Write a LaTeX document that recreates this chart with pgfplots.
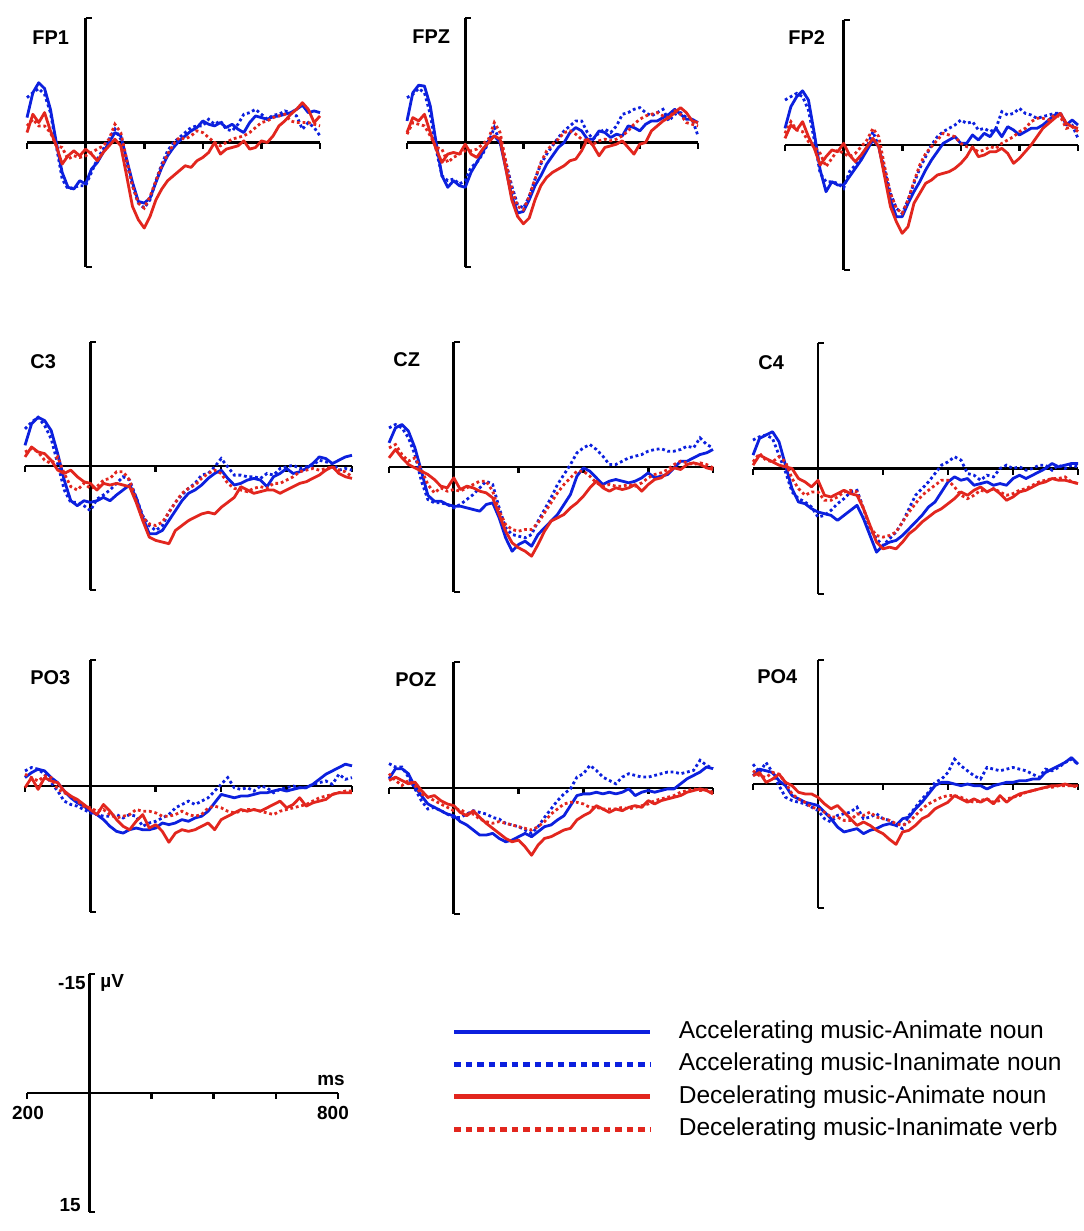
\documentclass[border=0pt]{standalone}
\usepackage{fontspec}
\setmainfont{Liberation Sans}
\usepackage{pgfplots}
\usepackage{pgfplotstable}
\pgfplotsset{compat=1.18}
\definecolor{bE}{RGB}{12,32,222}
\definecolor{rE}{RGB}{226,38,30}

\pgfplotstableread{
t a b c d
-200 -3.0 -5.4 -1.2 -2.0
-180 -6.0 -6.0 -3.4 -2.8
-160 -7.2 -6.5 -2.4 -2.0
-140 -6.5 -5.8 -3.6 -2.0
-120 -4.0 -3.6 -1.4 -1.2
-100 0.0 0.4 0.4 0.4
-80 3.6 4.4 2.6 0.6
-60 5.4 5.6 1.6 2.0
-40 5.6 5.4 1.0 1.6
-20 4.6 5.2 1.6 1.8
0 5.0 5.2 0.8 1.6
20 3.2 3.6 1.4 1.2
40 2.4 2.0 2.2 0.8
60 1.2 0.8 1.2 0.4
80 0.0 -0.4 0.4 -0.4
100 -1.2 -1.6 -0.4 -2.2
120 -0.8 -0.4 0.4 -1.2
140 2.0 2.4 4.0 2.0
160 4.8 5.2 7.7 5.2
180 7.1 7.3 9.3 7.3
200 7.3 7.9 10.3 7.9
220 6.7 6.9 8.9 6.5
240 4.8 4.6 6.9 4.6
260 3.0 2.6 5.6 2.8
280 1.6 1.0 4.6 1.4
300 0.6 0.0 4.0 0.2
320 -0.2 -0.6 3.4 -0.6
340 -0.8 -1.2 2.8 -0.4
360 -1.4 -1.8 3.0 -0.8
380 -1.8 -2.0 2.2 -1.4
400 -2.6 -2.0 1.8 -1.2
420 -2.2 -2.8 1.2 -0.6
440 -2.0 -2.2 0.0 0.0
460 -2.4 -2.6 1.4 0.4
480 -1.8 -1.6 0.8 0.0
500 -2.2 -1.4 0.6 -0.4
520 -1.6 -2.2 0.4 -0.6
540 -1.2 -3.4 -0.2 -0.8
560 -2.4 -3.6 0.8 -1.2
580 -3.2 -4.0 0.6 -1.8
600 -3.0 -3.4 -0.2 -2.4
620 -2.8 -2.8 0.0 -2.6
640 -3.1 -3.3 -0.8 -3.0
660 -3.2 -3.4 -2.0 -3.2
680 -3.4 -3.8 -2.6 -3.4
700 -3.6 -3.6 -3.4 -2.6
720 -4.0 -3.2 -4.0 -2.4
740 -4.5 -1.6 -4.8 -2.4
760 -3.6 -2.4 -4.0 -2.4
780 -3.8 -1.8 -2.4 -2.2
800 -3.6 -0.8 -3.2 -2.0
}\tFPone

\pgfplotstableread{
t a b c d
-200 -2.6 -5.4 -1.2 -1.0
-180 -6.0 -5.8 -3.0 -2.4
-160 -6.9 -6.5 -2.6 -2.2
-140 -6.8 -6.0 -3.4 -2.0
-120 -4.4 -3.4 -1.2 -0.8
-100 0.0 0.8 0.8 0.6
-80 4.0 4.0 2.4 0.8
-60 5.4 4.6 1.4 2.4
-40 4.6 4.4 1.2 1.8
-20 5.2 5.0 1.4 1.4
0 5.4 4.6 0.2 1.0
20 3.6 3.0 1.4 1.0
40 2.4 2.4 1.8 0.8
60 1.2 1.4 0.8 0.2
80 -0.2 0.0 0.0 -0.4
100 -0.8 -1.8 -0.8 -2.4
120 0.0 0.0 -0.4 -1.2
140 3.2 2.4 3.2 2.4
160 6.5 5.2 6.9 5.6
180 8.5 7.5 8.9 7.7
200 8.3 7.9 9.8 8.1
220 6.9 6.5 9.1 6.5
240 5.2 4.4 6.9 4.4
260 4.0 2.6 5.2 2.4
280 2.6 1.4 4.2 1.0
300 1.6 0.4 3.6 0.2
320 0.6 -0.6 3.2 -0.4
340 0.0 -1.4 2.8 -1.2
360 -1.2 -2.0 2.2 -1.4
380 -1.8 -2.6 2.0 -1.0
400 -1.4 -2.6 1.0 -0.4
420 -0.4 -1.2 -0.4 -0.2
440 -0.4 -0.4 0.4 0.2
460 -1.4 -1.2 1.6 -0.2
480 -1.2 -1.6 0.6 -0.4
500 -0.6 -1.2 0.4 -0.2
520 -1.0 -2.0 0.2 -0.4
540 -0.8 -3.4 -0.2 -0.8
560 -2.0 -3.6 0.6 -1.4
580 -1.8 -4.0 1.4 -2.2
600 -1.4 -4.2 0.2 -2.8
620 -2.2 -3.6 0.0 -3.2
640 -2.6 -3.2 -1.4 -3.4
660 -2.6 -3.6 -2.0 -3.6
680 -3.0 -4.0 -2.6 -3.2
700 -3.4 -2.6 -3.0 -3.0
720 -4.0 -3.4 -3.6 -3.8
740 -3.4 -3.6 -4.2 -3.4
760 -2.8 -3.0 -3.6 -2.4
780 -2.8 -2.8 -2.6 -2.2
800 -2.4 -0.8 -2.4 -2.0
}\tFPZ

\pgfplotstableread{
t a b c d
-200 -2.0 -5.4 -0.8 -1.4
-180 -4.6 -5.8 -2.4 -2.8
-160 -5.8 -6.2 -1.8 -1.8
-140 -6.5 -5.8 -2.8 -1.6
-120 -5.4 -4.2 -1.0 -0.4
-100 -1.4 -0.6 0.4 0.2
-80 3.0 3.4 2.4 1.0
-60 5.6 4.4 1.4 2.6
-40 4.4 4.4 0.6 1.6
-20 4.8 4.6 0.8 0.6
0 4.8 5.2 -0.2 1.0
20 3.8 3.2 1.2 1.4
40 2.8 2.4 2.0 1.0
60 1.8 1.4 1.2 0.2
80 0.6 0.2 0.2 -0.6
100 -0.6 -1.6 -0.8 -2.0
120 0.2 0.2 0.2 -1.0
140 3.4 3.0 3.8 2.6
160 6.6 5.8 7.4 5.8
180 8.6 7.6 9.2 7.6
200 8.6 8.2 10.6 8.2
220 7.0 6.6 9.8 6.6
240 5.6 4.6 7.0 4.4
260 4.4 2.8 5.8 2.4
280 3.0 1.4 4.6 1.0
300 1.8 0.0 4.2 0.2
320 0.8 -1.0 3.6 -0.6
340 -0.2 -1.6 3.4 -1.4
360 -0.6 -2.0 3.2 -1.2
380 -1.0 -2.4 2.8 -1.0
400 -0.2 -3.0 2.2 -0.2
420 -0.2 -2.6 1.4 0.2
440 -1.2 -2.8 0.2 0.4
460 -0.6 -1.8 1.4 0.8
480 -1.4 -2.0 1.2 0.6
500 -1.0 -1.6 0.8 0.2
520 -2.0 -2.0 0.8 0.4
540 -1.0 -4.0 0.4 -0.2
560 -2.2 -3.6 1.0 -0.6
580 -1.8 -3.8 2.2 -1.0
600 -1.2 -4.4 1.6 -1.6
620 -1.6 -3.8 0.8 -2.0
640 -2.0 -3.6 0.0 -2.8
660 -2.0 -3.2 -1.0 -3.2
680 -2.4 -3.4 -2.0 -3.2
700 -3.0 -3.6 -2.6 -3.0
720 -3.6 -3.8 -3.2 -3.6
740 -3.8 -3.8 -3.8 -3.4
760 -2.4 -2.6 -2.6 -2.0
780 -3.0 -2.4 -2.2 -2.2
800 -2.4 -0.8 -2.0 -1.6
}\tFPtwo

\pgfplotstableread{
t a b c d
-200 -2.5 -4.5 -1.1 -1.7
-180 -5.1 -5.3 -2.3 -2.1
-160 -5.9 -5.9 -1.7 -1.7
-140 -5.5 -4.9 -1.5 -0.7
-120 -4.3 -3.3 -0.7 -0.3
-100 -1.5 -0.3 0.5 -1.1
-80 1.7 2.9 0.9 0.9
-60 4.2 4.4 0.5 2.5
-40 4.8 4.4 1.3 2.9
-20 4.2 4.8 1.9 2.1
0 4.4 5.4 2.1 2.7
20 4.2 4.0 2.9 2.5
40 3.8 3.5 2.1 1.7
60 4.2 2.9 2.3 1.5
80 3.5 2.1 2.1 0.7
100 2.9 1.3 2.3 0.7
120 2.3 1.7 2.5 1.7
140 3.8 3.8 4.4 4.2
160 6.2 6.0 6.6 6.2
180 8.2 7.2 8.6 7.0
200 8.2 7.8 9.0 7.2
220 7.8 7.2 9.2 6.8
240 6.6 5.6 9.4 5.6
260 5.4 4.4 7.8 4.4
280 4.2 3.5 7.2 3.3
300 3.3 2.7 6.6 2.7
320 2.9 2.1 6.2 2.3
340 2.3 1.1 5.8 1.5
360 1.5 0.9 5.6 0.9
380 0.9 0.1 5.8 0.5
400 0.5 -0.9 5.0 0.9
420 1.5 0.1 4.4 2.1
440 2.3 1.1 3.8 2.7
460 2.1 1.1 2.5 2.9
480 1.7 1.3 2.9 3.1
500 1.5 1.3 3.3 2.7
520 1.7 1.5 3.1 2.5
540 2.5 0.9 2.9 2.7
560 1.3 1.1 2.9 2.1
580 0.9 0.3 3.3 2.1
600 0.3 0.1 2.9 1.7
620 0.9 -0.1 2.5 1.3
640 0.7 0.3 2.1 0.7
660 0.3 0.1 1.9 0.5
680 -0.3 -0.1 1.5 0.3
700 -1.1 -0.7 1.1 0.5
720 -0.9 -0.5 0.5 0.3
740 -0.3 -0.3 0.1 0.1
760 -0.7 0.5 0.9 0.5
780 -1.1 0.3 1.3 0.7
800 -1.3 0.5 1.5 1.3
}\tCthree

\pgfplotstableread{
t a b c d
-200 -2.9 -4.7 -1.1 -2.3
-180 -4.7 -5.1 -2.1 -2.7
-160 -5.1 -4.7 -1.1 -1.5
-140 -4.3 -3.5 -0.3 -0.7
-120 -2.3 -1.5 0.1 -1.1
-100 0.5 1.7 0.5 0.3
-80 3.4 3.9 0.9 2.1
-60 4.1 4.3 1.5 3.1
-40 4.1 4.3 2.3 2.5
-20 4.5 4.5 2.5 2.9
0 4.7 4.9 1.3 2.7
20 4.7 4.5 2.7 2.9
40 4.9 3.9 2.3 2.5
60 5.1 3.3 2.5 2.1
80 5.3 2.5 2.9 1.7
100 4.5 1.7 3.1 1.7
120 4.3 2.1 3.7 2.9
140 6.1 4.9 5.7 5.3
160 8.5 7.3 7.7 6.9
180 10.1 8.1 9.1 7.5
200 9.3 8.3 9.7 7.7
220 8.9 8.5 10.1 7.5
240 9.5 8.1 10.7 7.5
260 8.1 6.5 9.3 6.7
280 7.3 5.1 7.7 5.5
300 6.5 3.7 6.5 4.3
320 5.7 2.1 6.1 3.1
340 4.5 0.9 5.7 2.1
360 3.3 -0.3 4.9 1.3
380 1.1 -1.7 4.3 0.5
400 0.1 -2.3 3.5 0.5
420 0.5 -2.7 2.5 1.1
440 1.3 -2.1 1.7 1.9
460 2.1 -1.3 2.5 2.3
480 1.7 -0.3 2.9 2.1
500 1.5 -0.3 2.5 2.3
520 1.7 -0.7 2.7 2.3
540 1.9 -1.1 2.5 2.1
560 1.7 -1.3 2.1 2.3
580 1.3 -1.5 2.9 1.9
600 0.7 -1.9 2.1 1.3
620 1.3 -2.1 1.5 0.9
640 1.1 -2.2 1.3 0.7
660 0.9 -1.9 0.7 0.3
680 0.1 -1.9 0.1 -0.3
700 -0.7 -2.1 0.3 -0.7
720 -0.7 -2.5 -0.3 -0.5
740 -1.1 -2.3 -0.5 -0.3
760 -1.5 -3.5 -0.3 -0.5
780 -1.7 -2.7 0.1 -0.3
800 -2.1 -2.3 0.3 0.1
}\tCZ

\pgfplotstableread{
t a b c d
-200 -1.6 -3.4 -0.4 -0.8
-180 -3.6 -3.8 -1.6 -1.8
-160 -4.0 -4.0 -1.2 -1.0
-140 -4.4 -3.6 -0.8 -0.8
-120 -3.2 -1.6 -0.4 -1.4
-100 -0.4 0.4 -0.2 -0.8
-80 2.4 2.8 0.0 1.2
-60 4.0 3.6 1.2 2.4
-40 4.2 4.0 1.6 3.2
-20 4.8 4.6 2.2 2.8
0 5.2 5.8 1.4 2.8
20 5.4 5.6 3.2 3.8
40 5.6 5.0 3.4 3.8
60 6.2 4.2 3.0 3.4
80 5.6 3.6 2.6 2.8
100 5.0 2.8 3.0 2.6
120 4.4 2.6 3.2 2.8
140 6.0 4.8 4.8 4.8
160 8.0 7.2 6.8 7.0
180 10.0 8.4 8.8 8.0
200 9.2 9.2 9.6 8.2
220 8.8 8.4 9.4 8.0
240 8.6 7.6 9.6 7.6
260 8.0 6.4 8.8 6.4
280 7.2 4.8 7.8 5.2
300 6.4 3.2 7.2 4.2
320 5.6 2.4 6.4 3.2
340 4.6 1.6 5.8 2.6
360 4.0 0.6 5.2 2.0
380 2.8 -0.4 4.8 1.4
400 1.6 -0.8 4.2 1.4
420 1.0 -1.4 3.6 2.2
440 1.4 -1.0 2.8 3.2
460 1.2 0.6 3.2 3.6
480 2.0 0.8 2.6 3.2
500 1.8 1.4 2.2 2.6
520 1.6 0.8 2.8 2.8
540 2.0 1.0 2.4 2.4
560 1.8 0.0 3.0 2.8
580 2.0 -0.4 3.8 3.2
600 1.2 0.0 3.4 3.0
620 0.8 -0.2 2.8 2.6
640 1.2 0.2 2.6 2.4
660 0.8 0.0 2.2 2.0
680 0.4 -0.4 1.8 1.6
700 0.0 -0.4 1.6 1.4
720 -0.6 0.2 1.2 1.2
740 -0.2 -0.4 1.4 1.2
760 -0.4 0.0 1.4 1.0
780 -0.6 -0.4 1.6 1.6
800 -0.6 -0.2 1.8 1.8
}\tCfour

\pgfplotstableread{
t a b c d
-200 -1.0 -1.8 0.2 -1.4
-180 -1.6 -2.2 -1.0 -1.0
-160 -2.0 -2.0 0.4 -0.6
-140 -1.8 -1.4 -1.0 -1.2
-120 -1.0 -0.4 -0.6 -1.0
-100 -0.4 0.6 -0.4 0.4
-80 0.6 1.8 0.6 0.8
-60 1.4 2.2 1.2 1.2
-40 2.0 2.4 1.6 1.8
-20 2.4 2.8 2.2 2.4
0 3.0 3.2 2.8 2.6
20 3.4 3.4 3.4 3.0
40 4.0 3.6 2.2 2.8
60 4.8 3.6 3.0 3.4
80 5.4 3.4 4.0 3.8
100 5.6 3.8 4.8 3.6
120 5.2 3.4 5.2 3.4
140 5.0 3.6 4.2 2.8
160 5.2 4.8 3.4 3.0
180 5.2 4.4 5.0 3.0
200 5.0 4.2 4.6 3.2
220 4.4 3.8 5.4 3.6
240 4.6 3.4 6.7 3.6
260 4.4 2.6 5.6 3.4
280 4.0 2.2 5.2 3.0
300 4.2 1.8 5.4 3.4
320 3.8 2.2 5.2 3.6
340 3.6 1.8 4.8 3.4
360 3.0 1.4 4.4 2.6
380 2.0 0.6 5.2 2.4
400 1.0 -0.2 4.0 2.6
420 1.2 -1.0 3.6 3.0
440 1.4 0.2 3.2 3.2
460 1.2 0.4 2.8 3.0
480 1.2 0.2 3.0 2.8
500 1.0 0.6 2.8 2.8
520 0.8 0.0 3.0 3.0
540 0.8 0.2 2.6 3.2
560 0.6 0.8 2.2 3.4
580 0.4 0.4 1.8 3.0
600 0.6 0.2 2.6 2.8
620 0.4 0.0 2.2 2.6
640 0.2 0.2 1.4 2.4
660 0.2 0.2 2.4 2.2
680 -0.2 -0.2 2.0 1.8
700 -0.8 -0.4 1.8 1.4
720 -1.4 -0.6 1.6 1.2
740 -1.8 -0.2 1.0 1.0
760 -2.2 -1.4 0.8 0.8
780 -2.6 -0.8 0.8 0.6
800 -2.4 -1.0 0.8 0.6
}\tPOthree

\pgfplotstableread{
t a b c d
-200 -1.1 -2.9 -0.9 -1.7
-180 -2.3 -2.5 -1.3 -0.9
-160 -2.3 -2.5 -0.9 -0.3
-140 -1.7 -1.3 -0.5 -0.9
-120 -0.1 0.1 -0.7 -0.3
-100 0.9 1.5 0.3 0.7
-80 1.9 2.5 1.1 1.1
-60 2.3 2.3 0.9 1.5
-40 2.7 2.7 1.5 1.9
-20 3.1 3.1 1.9 2.3
0 3.3 3.5 2.1 2.7
20 4.0 3.5 2.9 2.5
40 4.4 3.1 3.3 3.1
60 5.0 2.7 2.7 3.1
80 5.6 2.9 3.5 3.7
100 5.6 3.1 4.2 4.0
120 5.4 3.5 4.8 4.2
140 6.0 3.7 5.4 4.0
160 6.4 4.2 6.0 4.2
180 6.2 4.4 6.4 4.4
200 5.8 4.6 6.2 4.6
220 5.4 5.0 7.0 4.8
240 5.8 5.4 8.0 5.0
260 5.2 4.6 6.8 4.6
280 4.6 3.5 6.0 4.0
300 4.4 2.5 5.8 3.1
320 3.8 1.5 5.4 2.5
340 3.3 0.7 5.0 1.9
360 2.1 0.1 4.8 1.7
380 0.9 -1.3 3.8 1.7
400 0.7 -1.7 3.3 1.9
420 0.7 -2.7 2.9 2.3
440 0.5 -2.1 2.1 2.3
460 0.7 -1.3 2.5 2.5
480 0.5 -0.9 2.9 2.5
500 0.7 -0.5 2.5 2.5
520 0.5 -1.3 2.7 2.3
540 0.1 -1.7 2.3 2.5
560 0.9 -1.5 2.1 2.3
580 0.5 -1.3 2.3 2.1
600 0.3 -1.3 1.5 1.9
620 0.5 -1.5 1.9 1.5
640 0.3 -1.7 1.5 1.3
660 0.1 -1.9 1.3 1.1
680 0.1 -1.9 1.1 0.9
700 -0.5 -1.7 0.9 0.5
720 -1.1 -1.9 0.5 0.3
740 -1.5 -2.1 0.3 0.1
760 -1.9 -3.3 0.1 0.3
780 -2.5 -2.7 0.3 0.2
800 -2.3 -2.3 0.7 0.5
}\tPOZ

\pgfplotstableread{
t a b c d
-200 -1.0 -2.4 -1.0 -1.6
-180 -1.8 -1.4 -1.4 -1.0
-160 -1.6 -2.6 -0.2 -0.8
-140 -1.4 -1.4 -0.6 -1.4
-120 -0.4 0.2 -1.2 -1.2
-100 0.2 1.6 -0.2 -0.2
-80 1.4 2.0 0.2 1.2
-60 1.8 2.2 1.0 1.8
-40 2.2 2.4 1.2 2.2
-20 2.4 2.8 1.2 2.8
0 2.6 3.2 1.6 3.0
20 3.4 4.2 2.4 3.4
40 4.2 4.6 3.0 4.0
60 5.2 3.8 2.6 4.0
80 5.8 3.6 3.4 4.4
100 5.6 3.4 4.2 4.4
120 5.4 2.8 5.0 3.6
140 6.0 4.2 4.6 3.8
160 5.6 4.0 5.0 3.4
180 5.4 3.6 5.6 4.0
200 5.0 4.2 6.0 4.2
220 4.8 4.4 6.7 4.4
240 5.0 5.0 7.3 4.8
260 4.2 5.4 5.8 5.0
280 4.0 3.8 5.6 4.6
300 3.0 2.8 5.0 3.8
320 2.2 1.8 4.2 3.0
340 1.2 1.0 3.8 2.4
360 0.2 -0.2 3.0 2.0
380 -0.2 -0.6 2.6 1.6
400 -0.2 -1.4 2.2 1.4
420 0.0 -3.0 1.4 1.4
440 0.2 -2.2 1.8 1.6
460 0.0 -1.6 2.2 2.0
480 0.2 -1.0 1.8 2.2
500 0.2 -0.6 2.2 2.0
520 0.6 -2.0 1.8 1.8
540 0.2 -1.8 2.4 2.2
560 0.0 -1.6 1.4 2.0
580 -0.2 -1.8 2.2 1.8
600 -0.2 -2.0 1.6 1.6
620 -0.4 -1.8 1.2 1.4
640 -0.4 -1.6 1.0 1.0
660 -0.6 -1.2 0.8 0.8
680 -0.6 -0.8 0.6 0.6
700 -1.4 -1.8 0.4 0.4
720 -1.8 -1.6 0.2 0.4
740 -2.2 -2.0 0.2 0.2
760 -2.6 -2.6 0.0 0.2
780 -3.2 -3.0 0.2 0.2
800 -2.4 -2.4 0.2 0.4
}\tPOfour

\pgfplotsset{
  panel/.style={scale only axis, anchor=south west,
    xmin=-200, xmax=800, ymin=-15, ymax=15, y dir=reverse,
    enlargelimits=false, axis lines=middle,
    axis line style={-, line width=1.4bp, black},
    xtick={-200,0,200,400,600,800}, ytick={-15,15},
    xticklabels={}, yticklabels={},
    major tick length=3bp, tick align=center,
    tick style={line width=1.3bp, black},
    every x tick/.append style={yshift=-1.5bp},
    every y tick/.append style={xshift=1.5bp},
    clip=false},
  sA/.style={bE, line width=1.4bp, line join=round},
  sB/.style={bE, line width=1.4bp, dash pattern=on 1.4bp off 1.4bp},
  sC/.style={rE, line width=1.4bp, line join=round},
  sD/.style={rE, line width=1.4bp, dash pattern=on 1.4bp off 1.4bp},
}
\newcommand\four[1]{%
  \addplot[sA] table[x=t,y=a]{#1};
  \addplot[sB] table[x=t,y=b]{#1};
  \addplot[sC] table[x=t,y=c]{#1};
  \addplot[sD] table[x=t,y=d]{#1};}

\begin{document}
\begin{tikzpicture}
\useasboundingbox (0,0) rectangle (542bp,-615.5bp);
\fill[white] (0,0) rectangle (542bp,-615.5bp);

\begin{axis}[panel, at={(13.5bp,-133.5bp)}, width=146.5bp, height=124.5bp]
\four{\tFPone}
\end{axis}
\begin{axis}[panel, at={(203.5bp,-133.5bp)}, width=145.5bp, height=124.5bp]
\four{\tFPZ}
\end{axis}
\begin{axis}[panel, at={(392.5bp,-135bp)}, width=146.5bp, height=125bp]
\four{\tFPtwo}
\end{axis}

\begin{axis}[panel, at={(12.5bp,-295bp)}, width=163.5bp, height=124bp]
\four{\tCthree}
\end{axis}
\begin{axis}[panel, at={(194.5bp,-296bp)}, width=162bp, height=125bp]
\four{\tCZ}
\end{axis}
\begin{axis}[panel, at={(376.5bp,-297bp)}, width=162.5bp, height=125.5bp]
\four{\tCfour}
\end{axis}

\begin{axis}[panel, at={(12.5bp,-456bp)}, width=163.5bp, height=126bp]
\four{\tPOthree}
\end{axis}
\begin{axis}[panel, at={(194.5bp,-457bp)}, width=162bp, height=126bp]
\four{\tPOZ}
\end{axis}
\begin{axis}[panel, at={(376.5bp,-454bp)}, width=162.5bp, height=124bp]
\four{\tPOfour}
\end{axis}

% scale axis with legend
\begin{axis}[panel, at={(13.5bp,-606bp)}, width=155.5bp, height=119bp,
  legend style={at={(1.3666,0.805)}, anchor=north west, draw=none, fill=none,
    inner sep=0pt, outer sep=0pt, row sep=4.6bp, column sep=13bp,
    font=\fontsize{12.3}{14}\selectfont,
    nodes={inner sep=0pt, text height=8.9bp, text depth=2.7bp}},
  legend cell align=left,
  legend image code/.code={\draw[#1] (0bp,0bp) -- (98bp,0bp);}]
\addlegendimage{bE, line width=2.4bp}
\addlegendentry{Accelerating music-Animate noun}
\addlegendimage{bE, line width=2.4bp, dash pattern=on 3.2bp off 2.55bp}
\addlegendentry{Accelerating music-Inanimate noun}
\addlegendimage{rE, line width=2.4bp}
\addlegendentry{Decelerating music-Animate noun}
\addlegendimage{rE, line width=2.4bp, dash pattern=on 3.2bp off 2.55bp}
\addlegendentry{Decelerating music-Inanimate verb}
\end{axis}

\tikzset{lab/.style={font=\bfseries\fontsize{10}{12}\selectfont, inner sep=0pt}}
\node[lab, anchor=west] at (16bp,-19bp) {FP1};
\node[lab, anchor=west] at (206bp,-18.5bp) {FPZ};
\node[lab, anchor=west] at (394bp,-19bp) {FP2};
\node[lab, anchor=west] at (15bp,-181bp) {C3};
\node[lab, anchor=west] at (196.5bp,-180bp) {CZ};
\node[lab, anchor=west] at (379bp,-181.5bp) {C4};
\node[lab, anchor=west] at (15bp,-339bp) {PO3};
\node[lab, anchor=west] at (197.5bp,-340bp) {POZ};
\node[lab, anchor=west] at (378.5bp,-338.5bp) {PO4};

\tikzset{sl/.style={font=\bfseries\fontsize{9.5}{11}\selectfont, inner sep=0pt}}
\node[sl, anchor=east] at (43bp,-491.5bp) {-15};
\node[sl, anchor=west] at (50bp,-491.5bp) {µV};
\node[sl] at (165.5bp,-540bp) {ms};
\node[sl] at (14bp,-556.5bp) {200};
\node[sl] at (166.5bp,-556.5bp) {800};
\node[sl, anchor=east] at (40.5bp,-602.5bp) {15};
\end{tikzpicture}
\end{document}
